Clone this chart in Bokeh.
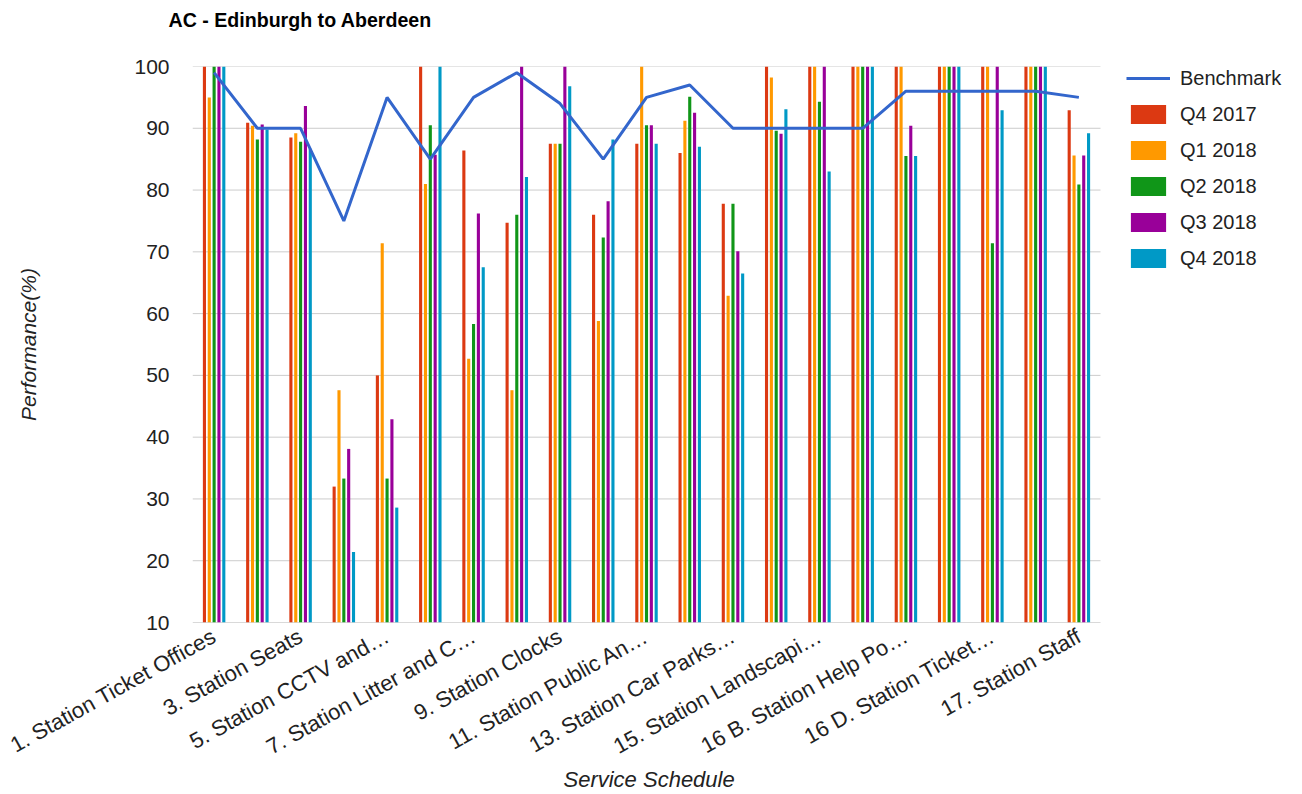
import math
from bokeh.plotting import figure
from bokeh.models import (ColumnDataSource, Range1d, FixedTicker, Legend, LegendItem, Title)
from bokeh.transform import dodge
from bokeh.embed import file_html
from bokeh.resources import INLINE

categories = [
    "1. Station Ticket Offices", "2.", "3. Station Seats", "4.",
    "5. Station CCTV and…", "6.", "7. Station Litter and C…", "8.",
    "9. Station Clocks", "10.", "11. Station Public An…", "12.",
    "13. Station Car Parks…", "14.", "15. Station Landscapi…", "16 A.",
    "16 B. Station Help Po…", "16 C.", "16 D. Station Ticket…", "16 E.",
    "17. Station Staff",
]
benchmark = [99, 90, 90, 75, 95, 85, 95, 99, 94, 85, 95, 97, 90, 90, 90, 90, 96, 96, 96, 96, 95]
q4_2017 = [100, 90.9, 88.5, 32.0, 50.0, 100, 86.4, 74.7, 87.5, 76.0, 87.5, 86.0, 77.8, 100, 100, 100, 100, 100, 100, 100, 92.9]
q1_2018 = [95, 90.4, 89.2, 47.6, 71.4, 81.0, 52.7, 47.6, 87.5, 58.8, 100, 91.2, 62.9, 98.2, 100, 100, 100, 100, 100, 100, 85.6]
q2_2018 = [100, 88.2, 87.8, 33.3, 33.3, 90.5, 58.3, 76.0, 87.5, 72.3, 90.5, 95.1, 77.8, 89.6, 94.3, 100, 85.5, 100, 71.4, 100, 80.9]
q3_2018 = [100, 90.6, 93.6, 38.1, 42.9, 85.7, 76.2, 100, 100, 78.2, 90.5, 92.5, 70.1, 89.1, 100, 100, 90.4, 100, 100, 100, 85.6]
q4_2018 = [100, 89.8, 86.7, 21.4, 28.6, 100, 67.5, 82.1, 96.8, 88.2, 87.5, 87.0, 66.5, 93.1, 83.0, 100, 85.5, 100, 92.9, 100, 89.2]
series_names = ["Q4 2017", "Q1 2018", "Q2 2018", "Q3 2018", "Q4 2018"]
series_values = [q4_2017, q1_2018, q2_2018, q3_2018, q4_2018]
series_colors = ["#dc3912", "#ff9900", "#109618", "#990099", "#0099c6"]
y_ticks = [10, 20, 30, 40, 50, 60, 70, 80, 90, 100]

FONT = "Liberation Sans"
W, H = 1302, 794
LEFT, RIGHT_PLOT, TOP, BOTTOM = 192, 1100, 66, 622
n = len(categories)
unit = (RIGHT_PLOT - LEFT) / n
x_end = -0.5 + (W - 2 - LEFT) / unit   # frame extends under the legend area

idx = list(range(n))
data = {"x": idx, "bench": benchmark}
for name, vals in zip(series_names, series_values):
    data[name] = vals
src = ColumnDataSource(data)

p = figure(width=W, height=H, x_range=Range1d(-0.5, x_end),
           y_range=Range1d(y_ticks[0], y_ticks[-1]), output_backend="svg",
           toolbar_location=None, min_border_left=LEFT, min_border_right=2,
           min_border_top=TOP, min_border_bottom=H - BOTTOM)

p.title.text = "AC - Edinburgh to Aberdeen"
p.title.text_font = FONT
p.title.text_font_size = "19.6px"
p.title.text_font_style = "bold"
p.title.text_color = "#000000"
p.title.align = "left"
p.title.offset = -24
p.title.standoff = 0
# spacer between the title and the plot area
p.add_layout(Title(text=" ", text_font=FONT, text_font_size="19.6px", standoff=12), "above")

# horizontal gridlines limited to the category span
grid_src = ColumnDataSource({"y": y_ticks[1:], "x0": [-0.5] * (len(y_ticks) - 1),
                             "x1": [n - 0.5] * (len(y_ticks) - 1)})
p.segment(x0="x0", x1="x1", y0="y", y1="y", source=grid_src,
          line_color="#cccccc", line_width=1)
p.segment(x0=[-0.5], x1=[n - 0.5], y0=[y_ticks[0]], y1=[y_ticks[0]],
          line_color="#b3b3b3", line_width=1)

offsets = [-0.224, -0.112, 0.0, 0.112, 0.224]
bar_renderers = []
for name, col, off in zip(series_names, series_colors, offsets):
    r = p.vbar(x=dodge("x", off), top=name, bottom=0, width=0.072, source=src,
               fill_color=col, line_color=None)
    bar_renderers.append(r)

line_r = p.line(x="x", y="bench", source=src, line_color="#3366cc", line_width=3)

p.xgrid.visible = False
p.ygrid.visible = False
p.outline_line_color = None

p.yaxis.ticker = FixedTicker(ticks=y_ticks)
p.yaxis.axis_line_color = None
p.yaxis.major_tick_line_color = None
p.yaxis.minor_tick_line_color = None
p.yaxis.major_label_standoff = 17
p.yaxis.major_label_text_font = FONT
p.yaxis.major_label_text_font_size = "21px"
p.yaxis.major_label_text_color = "#222222"
p.yaxis.axis_label = "Performance(%)"
p.yaxis.axis_label_text_font = FONT
p.yaxis.axis_label_text_font_size = "21px"
p.yaxis.axis_label_text_font_style = "italic"
p.yaxis.axis_label_text_color = "#222222"
p.yaxis.axis_label_standoff = 91

p.xaxis.ticker = FixedTicker(ticks=idx[::2])
p.xaxis.major_label_overrides = {i: categories[i] for i in idx[::2]}
p.xaxis.axis_line_color = None
p.xaxis.major_tick_line_color = None
p.xaxis.minor_tick_line_color = None
p.xaxis.major_label_orientation = math.radians(29)
p.xaxis.major_label_standoff = 6
p.xaxis.major_label_text_font = FONT
p.xaxis.major_label_text_font_size = "22px"
p.xaxis.major_label_text_color = "#222222"

# x-axis title, centred under the category span (not the extended frame)
xtitle = Title(text="Service Schedule", text_font=FONT, text_font_size="22px",
               text_font_style="italic", text_color="#222222", align="left",
               vertical_align="top", offset=563 - LEFT, standoff=-14)
p.add_layout(xtitle, "below")

items = [LegendItem(label="Benchmark", renderers=[line_r])]
for name, r in zip(series_names, bar_renderers):
    items.append(LegendItem(label=name, renderers=[r]))
legend = Legend(items=items, location=(1126 - LEFT, 352), glyph_width=44, glyph_height=24,
                spacing=12, label_text_font=FONT, label_text_font_size="20px",
                label_text_color="#222222", label_standoff=10, padding=0, margin=0,
                border_line_color=None, background_fill_alpha=0)
p.add_layout(legend, "center")

open("out.html", "w").write(file_html(p, INLINE))
